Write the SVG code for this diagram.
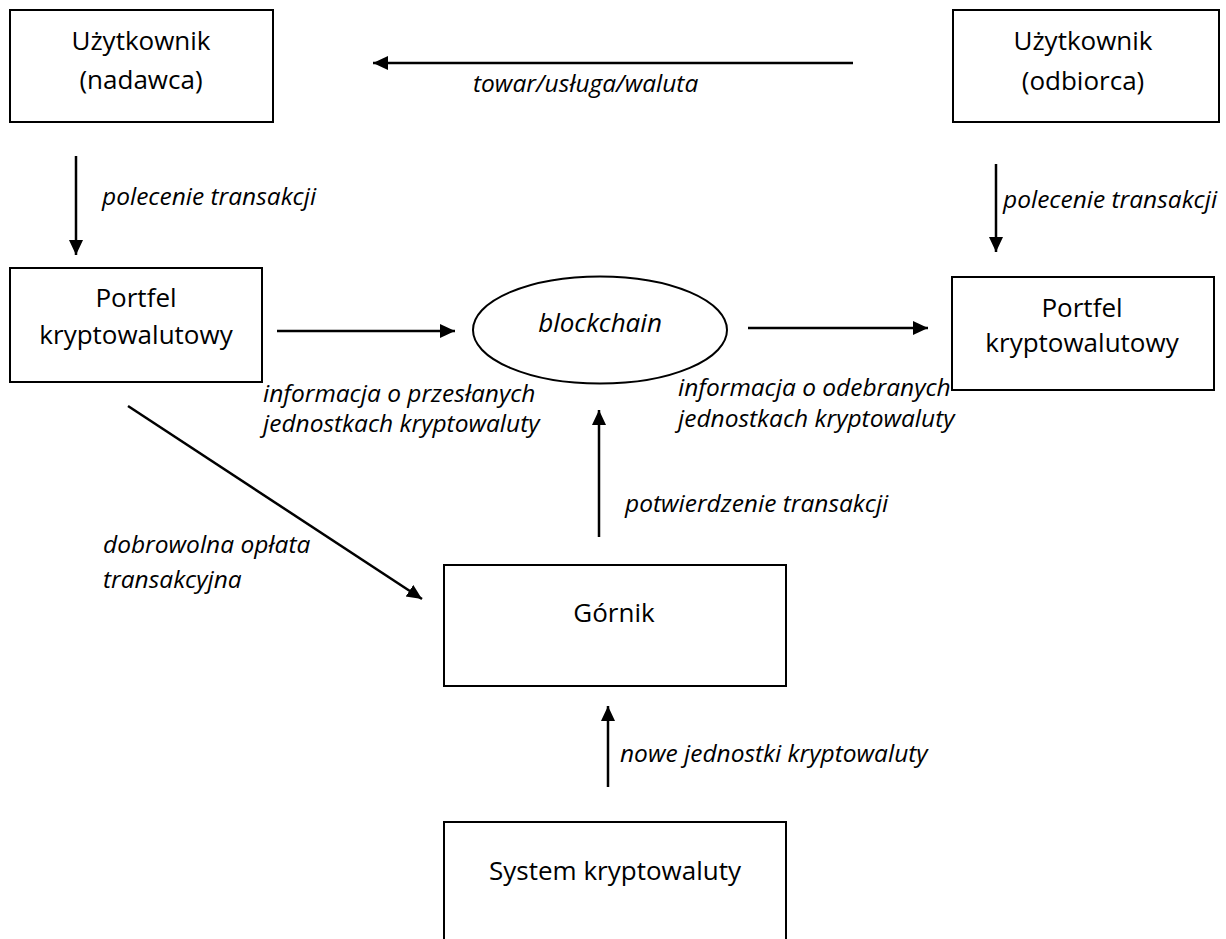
<svg xmlns="http://www.w3.org/2000/svg" width="1226" height="939" viewBox="0 0 1226 939">
<style>
.box{fill:#fff;stroke:#000;stroke-width:2}
.t{font-family:"Open Sans","Liberation Sans",sans-serif;font-size:26px;fill:#000;text-anchor:middle}
.l{font-family:"Open Sans","Liberation Sans",sans-serif;font-size:24.5px;font-style:italic;fill:#000}
.c{stroke:#000;stroke-width:2.5;fill:none;marker-end:url(#ah)}
</style>
<defs>
<marker id="ah" markerUnits="userSpaceOnUse" markerWidth="16" markerHeight="15" refX="15" refY="7" orient="auto" viewBox="0 0 16 15">
<path d="M0,0 L15,7 L0,14 z" fill="#000"/>
</marker>
</defs>
<rect width="1226" height="939" fill="#fff"/>
<g id="connectors">
<line class="c" x1="853" y1="63" x2="373" y2="63"/>
<line class="c" x1="76" y1="156" x2="76" y2="255"/>
<line class="c" x1="996" y1="164" x2="996" y2="252"/>
<line class="c" x1="277" y1="331" x2="455" y2="331"/>
<line class="c" x1="748" y1="328" x2="928" y2="328"/>
<line class="c" x1="128" y1="406" x2="422" y2="599"/>
<line class="c" x1="599" y1="537" x2="599" y2="410"/>
<line class="c" x1="608" y1="787" x2="608" y2="706"/>
<text class="l" x="473" y="92">towar/usługa/waluta</text>
<text class="l" x="102" y="205">polecenie transakcji</text>
<text class="l" x="1003" y="208">polecenie transakcji</text>
<text class="l" x="263" y="402">informacja o przesłanych</text>
<text class="l" x="263" y="432">jednostkach kryptowaluty</text>
<text class="l" x="678" y="396">informacja o odebranych</text>
<text class="l" x="678" y="427">jednostkach kryptowaluty</text>
<text class="l" x="103" y="553">dobrowolna opłata</text>
<text class="l" x="103" y="588">transakcyjna</text>
<text class="l" x="625" y="512">potwierdzenie transakcji</text>
<text class="l" x="620" y="762">nowe jednostki kryptowaluty</text>
</g>
<g id="nadawca">
<rect class="box" x="10" y="10" width="263" height="112"/>
<text class="t" x="141" y="50">Użytkownik</text>
<text class="t" x="141" y="89">(nadawca)</text>
</g>
<g id="odbiorca">
<rect class="box" x="953" y="10" width="266" height="112"/>
<text class="t" x="1083" y="50">Użytkownik</text>
<text class="t" x="1083" y="90">(odbiorca)</text>
</g>
<g id="portfel-lewy">
<rect class="box" x="10" y="268" width="252" height="114"/>
<text class="t" x="136" y="307">Portfel</text>
<text class="t" x="136" y="344">kryptowalutowy</text>
</g>
<g id="blockchain">
<ellipse class="box" cx="600" cy="330" rx="127" ry="53.5"/>
<text class="t" x="600" y="332" font-style="italic">blockchain</text>
</g>
<g id="portfel-prawy">
<rect class="box" x="952" y="277" width="262" height="113"/>
<text class="t" x="1082" y="317">Portfel</text>
<text class="t" x="1082" y="352">kryptowalutowy</text>
</g>
<g id="gornik">
<rect class="box" x="444" y="565" width="342" height="121"/>
<text class="t" x="614" y="622">Górnik</text>
</g>
<g id="system">
<rect class="box" x="444" y="822" width="342" height="140"/>
<text class="t" x="615" y="880">System kryptowaluty</text>
</g>
</svg>
